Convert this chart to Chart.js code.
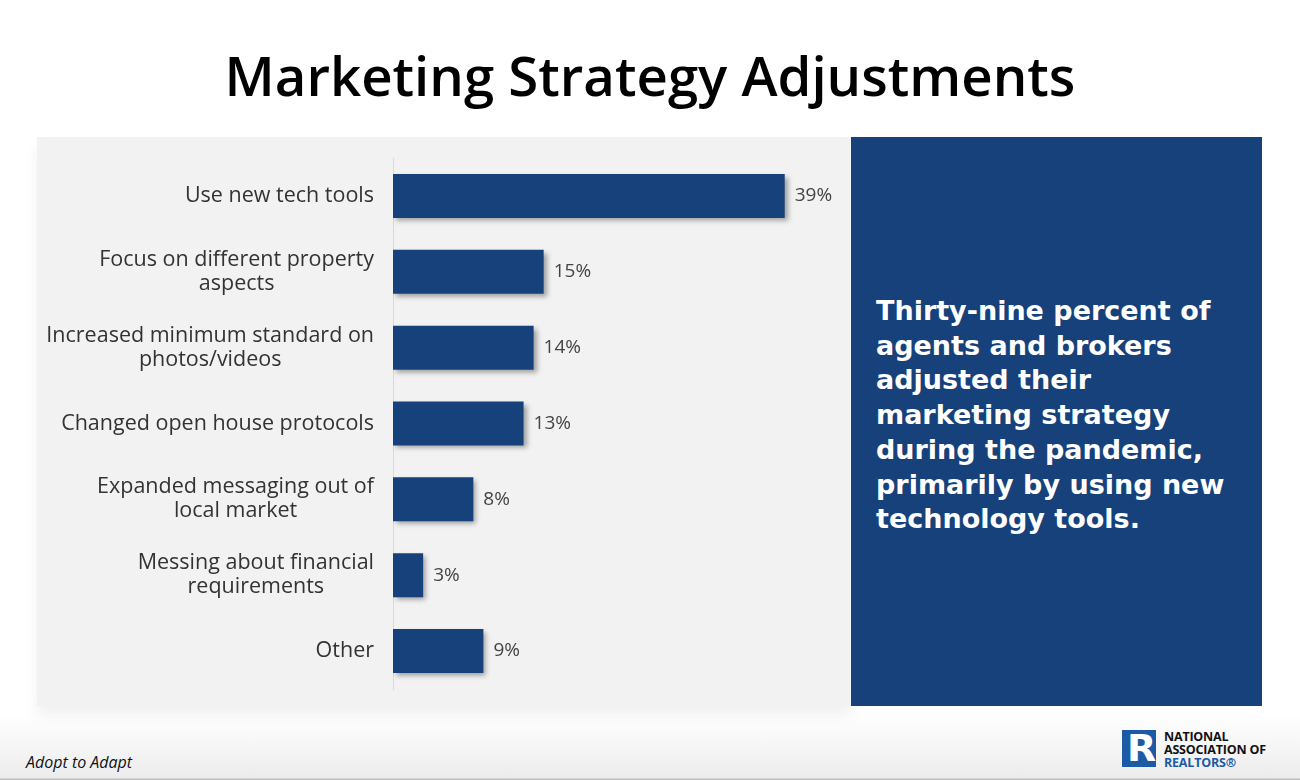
<!DOCTYPE html>
<html>
<head>
<meta charset="utf-8">
<script src="https://cdn.jsdelivr.net/npm/chart.js@4.4.1/dist/chart.umd.min.js"></script>
<style>
  html, body { margin: 0; padding: 0; }
  body {
    width: 1300px; height: 780px; position: relative; overflow: hidden;
    background: linear-gradient(to bottom, #ffffff 0px, #ffffff 715px, #ececec 778px, #bdbdbd 779px);
    font-family: "Open Sans", sans-serif;
  }
  h1 {
    position: absolute; left: 0; top: 38px; width: 1300px; margin: 0;
    text-align: center; font-size: 54.5px; font-weight: 600; color: #000;
    letter-spacing: 0px;
  }
  #panel {
    position: absolute; left: 37px; top: 137px; width: 814px; height: 569px;
    background: #f2f2f2;
    box-shadow: 0 10px 14px rgba(0,0,0,0.06);
  }
  #side {
    position: absolute; left: 851px; top: 137px; width: 411px; height: 569px;
    background: #17417b; color: #fff; box-sizing: border-box;
    padding: 157px 20px 0 25px;
    font-family: "DejaVu Sans", sans-serif; font-weight: bold;
    font-size: 27px; line-height: 34.7px;
  }
  #foot {
    position: absolute; left: 26px; top: 751px; font-size: 16px; font-style: italic; color: #111;
  }
  #logo { position: absolute; left: 1122px; top: 730px; }
  #logo .box {
    position: absolute; left: 0; top: 0; width: 34px; height: 37px; background: #1d5aa6;
  }
  #logo .r {
    position: absolute; left: 5px; top: -4px; font: bold 38px "DejaVu Sans", sans-serif; color: #fff;
  }
  #logo .txt {
    position: absolute; left: 42px; top: 0px; font: bold 12.5px/13px "Open Sans", sans-serif;
    color: #111; white-space: nowrap; letter-spacing: -0.2px;
  }
  #logo .txt span { color: #1d5aa6; }
</style>
</head>
<body>
<h1>Marketing Strategy Adjustments</h1>
<div id="panel"><canvas id="c" width="814" height="569"></canvas></div>
<div id="side">Thirty-nine percent of agents and brokers adjusted their marketing strategy during the pandemic, primarily by using new technology tools.</div>
<div id="foot">Adopt to Adapt</div>
<div id="logo">
  <div class="box"></div><div class="r">R</div>
  <div class="txt">NATIONAL<br>ASSOCIATION OF<br><span>REALTORS®</span></div>
</div>
<script>
const categories = [
  ['Use new tech tools'],
  ['Focus on different property', 'aspects'],
  ['Increased minimum standard on', 'photos/videos'],
  ['Changed open house protocols'],
  ['Expanded messaging out of', 'local market'],
  ['Messing about financial', 'requirements'],
  ['Other']
];
const shares = [39, 15, 14, 13, 8, 3, 9];

const barColor = '#17417b';
const labelFont = '21.5px "Open Sans", sans-serif';

// 柱狀陰影
const shadowPlugin = {
  id: 'barShadow',
  beforeDatasetsDraw(chart) {
    const ctx = chart.ctx;
    ctx.save();
    ctx.shadowColor = 'rgba(0, 0, 0, 0.35)';
    ctx.shadowBlur = 5;
    ctx.shadowOffsetX = 3;
    ctx.shadowOffsetY = 3;
  },
  afterDatasetsDraw(chart) {
    chart.ctx.restore();
  }
};

// 分類標籤（多行置中）與數值標籤
const labelPlugin = {
  id: 'labels',
  afterDraw(chart) {
    const ctx = chart.ctx;
    const yScale = chart.scales.y;
    const xScale = chart.scales.x;
    ctx.save();
    ctx.font = labelFont;
    ctx.fillStyle = '#333';
    ctx.textBaseline = 'middle';
    ctx.textAlign = 'center';
    const right = xScale.left - 19;
    const lineH = 24;
    categories.forEach((lines, i) => {
      const y = yScale.getPixelForTick(i);
      const w = Math.max(...lines.map(l => ctx.measureText(l).width));
      const cx = right - w / 2;
      const y0 = y - (lines.length - 1) * lineH / 2;
      lines.forEach((l, j) => ctx.fillText(l, cx, y0 + j * lineH));
    });
    ctx.font = '19px "Open Sans", sans-serif';
    ctx.fillStyle = '#444';
    ctx.textAlign = 'left';
    const meta = chart.getDatasetMeta(0);
    meta.data.forEach((bar, i) => {
      ctx.fillText(shares[i] + '%', bar.x + 10, bar.y);
    });
    ctx.restore();
  }
};

new Chart(document.getElementById('c'), {
  type: 'bar',
  data: {
    labels: categories,
    datasets: [{
      data: shares,
      backgroundColor: barColor,
      borderWidth: 0,
      categoryPercentage: 1,
      barPercentage: 0.58
    }]
  },
  options: {
    indexAxis: 'y',
    responsive: false,
    animation: false,
    layout: { padding: { left: 356, right: 6, top: 21, bottom: 17 } },
    scales: {
      x: {
        min: 0, max: 45,
        display: false
      },
      y: {
        afterFit(scale) { scale.width = 0; },
        ticks: { display: false },
        grid: { display: false },
        border: { display: true, color: '#d9d9d9', width: 1 }
      }
    },
    plugins: {
      legend: { display: false },
      tooltip: { enabled: false }
    }
  },
  plugins: [shadowPlugin, labelPlugin]
});
</script>
</body>
</html>
